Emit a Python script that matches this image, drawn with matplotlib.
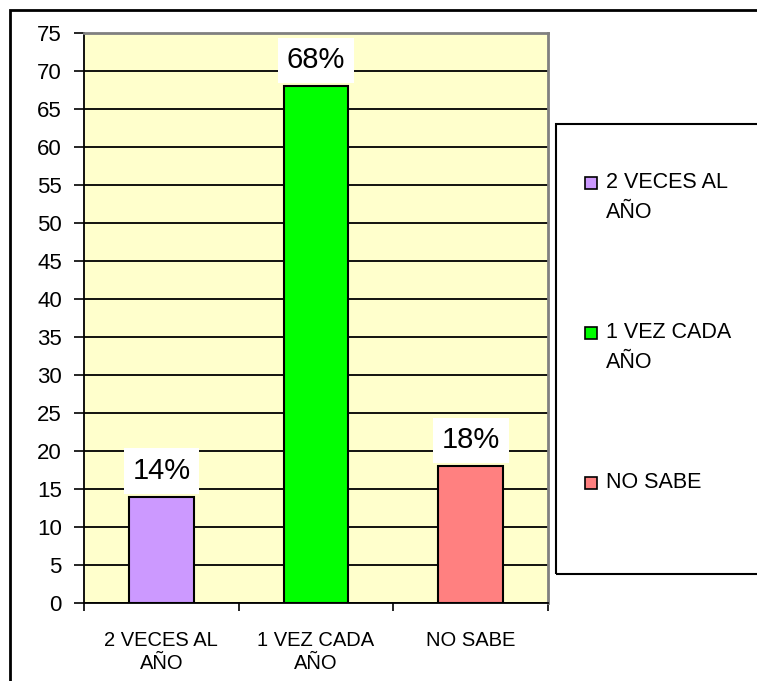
import matplotlib
matplotlib.use('Agg')
import matplotlib.pyplot as plt
from matplotlib.patches import Rectangle

plt.rcParams['font.family'] = ['Liberation Sans', 'DejaVu Sans']

categories = ['2 VECES AL\nAÑO', '1 VEZ CADA\nAÑO', 'NO SABE']
values = [14, 68, 18]
pct_labels = ['14%', '68%', '18%']
colors = ['#CC99FF', '#00FF00', '#FF8080']
yticks = list(range(0, 80, 5))

W, H = 757, 681
fig = plt.figure(figsize=(W / 100, H / 100), dpi=100)

# outer chart border (only left and top visible)
fig.patches.append(Rectangle((10 / W, -0.5), 2, 1.5 - 10 / H,
                             transform=fig.transFigure, fill=False,
                             ec='black', lw=2, clip_on=False))

ax = fig.add_axes([84 / W, 1 - 603 / H, (548 - 84) / W, (603 - 33) / H])
ax.set_facecolor('#FFFFCC')

x = range(len(values))
ax.bar(x, values, width=0.42, color=colors, edgecolor='black', lw=1.5, zorder=3)

ax.set_xlim(-0.5, 2.5)
ax.set_ylim(0, 75)
ax.set_yticks(yticks)
ax.yaxis.grid(True, color='black', lw=1.3, zorder=1)
ax.set_axisbelow(True)
ax.tick_params(axis='y', length=7, width=1.2, labelsize=16, pad=9)

ax.set_xticks(list(x))
ax.set_xticklabels(categories, fontsize=14.5, linespacing=1.3)
ax.set_xticks([-0.5, 0.5, 1.5, 2.5], minor=True)
ax.tick_params(axis='x', which='major', length=0, pad=20)
ax.tick_params(axis='x', which='minor', length=6, width=1.2)

ax.spines['left'].set_color('black')
ax.spines['bottom'].set_color('black')
ax.spines['left'].set_linewidth(1.3)
ax.spines['bottom'].set_linewidth(1.3)
ax.spines['top'].set_color('#808080')
ax.spines['right'].set_color('#808080')
ax.spines['top'].set_linewidth(2)
ax.spines['right'].set_linewidth(2)

for i, v in enumerate(values):
    ax.annotate(pct_labels[i], (i, v), xytext=(0, 8.5), textcoords='offset points',
                ha='center', va='bottom', fontsize=21, zorder=5,
                bbox=dict(boxstyle='square,pad=0.3', fc='white', ec='none'))

# legend box
fig.patches.append(Rectangle((556 / W, 1 - 574 / H), 1, (574 - 124) / H,
                             transform=fig.transFigure, fill=False,
                             ec='black', lw=1.5, clip_on=False))

for i, lab in enumerate(categories):
    yc = 183 + i * 150
    fig.patches.append(Rectangle((585 / W, 1 - (yc + 6) / H), 12 / W, 12 / H,
                                 transform=fig.transFigure, fc=colors[i],
                                 ec='black', lw=1.2))
    for j, line in enumerate(lab.split('\n')):
        fig.text(606 / W, 1 - (yc + j * 30) / H, line, fontsize=15.5,
                 ha='left', va='center')

fig.savefig('out.png', dpi=100)
